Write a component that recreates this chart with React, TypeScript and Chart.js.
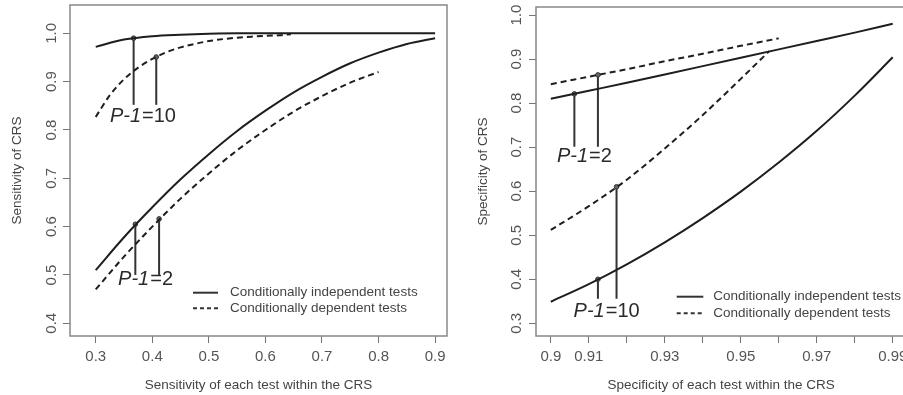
import React, { useEffect, useRef } from "react";
import { Chart, registerables } from "chart.js";
Chart.register(...registerables);

// ---------- Left panel: sensitivity ----------
const sensX = [0.30, 0.35, 0.40, 0.45, 0.50, 0.55, 0.60, 0.65, 0.70, 0.75, 0.80, 0.85, 0.90];
const sensIndep2 = [0.51, 0.578, 0.64, 0.698, 0.75, 0.798, 0.84, 0.878, 0.91, 0.938, 0.96, 0.978, 0.99];
const sensIndep10 = [0.972, 0.987, 0.994, 0.997, 0.999, 1.0, 1.0, 1.0, 1.0, 1.0, 1.0, 1.0, 1.0];
const sensDep2X = [0.30, 0.35, 0.40, 0.45, 0.50, 0.55, 0.60, 0.65, 0.70, 0.75, 0.80];
const sensDep2 = [0.47, 0.538, 0.60, 0.658, 0.71, 0.758, 0.80, 0.838, 0.87, 0.898, 0.92];
const sensDep10X = [0.300, 0.325, 0.350, 0.375, 0.400, 0.425, 0.450, 0.475, 0.500, 0.525, 0.550, 0.575, 0.600, 0.625, 0.645];
const sensDep10 = [0.827, 0.872, 0.905, 0.929, 0.947, 0.961, 0.971, 0.978, 0.984, 0.988, 0.991, 0.993, 0.995, 0.996, 0.998];
const sensMarkX = [0.367, 0.407, 0.37, 0.412];
const sensMarkBase = [0.852, 0.852, 0.50, 0.50];
const sensMarkTop = [0.990, 0.951, 0.605, 0.616];
const sensXTicks = [0.3, 0.4, 0.5, 0.6, 0.7, 0.8, 0.9];
const sensXTickLabels = ["0.3", "0.4", "0.5", "0.6", "0.7", "0.8", "0.9"];
const sensYTicks = [0.4, 0.5, 0.6, 0.7, 0.8, 0.9, 1.0];
const sensYTickLabels = ["0.4", "0.5", "0.6", "0.7", "0.8", "0.9", "1.0"];

// ---------- Right panel: specificity ----------
const specX = [0.90, 0.91, 0.92, 0.93, 0.94, 0.95, 0.96, 0.97, 0.98, 0.99];
const specIndep2 = [0.81, 0.828, 0.846, 0.865, 0.884, 0.903, 0.922, 0.941, 0.960, 0.980];
const specIndep10 = [0.349, 0.389, 0.434, 0.484, 0.539, 0.599, 0.665, 0.737, 0.817, 0.904];
const specDep2X = [0.90, 0.91, 0.92, 0.93, 0.94, 0.95, 0.96];
const specDep2 = [0.843, 0.860, 0.877, 0.895, 0.912, 0.930, 0.947];
const specDep10X = [0.90, 0.91, 0.92, 0.93, 0.94, 0.95, 0.9575];
const specDep10 = [0.512, 0.566, 0.626, 0.697, 0.773, 0.855, 0.918];
const specMarkX = [0.9062, 0.9124, 0.9124, 0.9173];
const specMarkBase = [0.701, 0.701, 0.356, 0.356];
const specMarkTop = [0.821, 0.864, 0.400, 0.610];
const specXTicks = [0.90, 0.91, 0.92, 0.93, 0.94, 0.95, 0.96, 0.97, 0.98, 0.99];
const specXTickLabels = ["0.9", "0.91", "", "0.93", "", "0.95", "", "0.97", "", "0.99"];
const specYTicks = [0.3, 0.4, 0.5, 0.6, 0.7, 0.8, 0.9, 1.0];
const specYTickLabels = ["0.3", "0.4", "0.5", "0.6", "0.7", "0.8", "0.9", "1.0"];

const legendTexts = ["Conditionally independent tests", "Conditionally dependent tests"];

const FONT = '"Liberation Sans", Arial, Helvetica, sans-serif';
const LINE = "#1e1e1e";
const TEXT = "#444";

function curve(xs: number[], ys: number[], dashed: boolean) {
  return {
    data: xs.map((x, i) => ({ x, y: ys[i] })),
    borderColor: LINE,
    borderWidth: 2,
    borderDash: dashed ? [6, 4] : [],
    pointRadius: 0,
    cubicInterpolationMode: "monotone",
    fill: false,
  };
}

function markers(xs: number[], base: number[], top: number[]) {
  return xs.map((x, i) => ({
    data: [
      { x, y: base[i] },
      { x, y: top[i] },
    ],
    borderColor: "#333",
    borderWidth: 2,
    pointRadius: [0, 2.3],
    pointBackgroundColor: "#666",
    pointBorderColor: "#333",
    pointBorderWidth: 1,
    fill: false,
  }));
}

const decorPlugin = {
  id: "decor",
  afterDraw(chart: any, _args: any, opts: any) {
    const { ctx, chartArea: a, scales } = chart;
    ctx.save();
    // frame
    ctx.strokeStyle = "#888";
    ctx.lineWidth = 1.5;
    ctx.strokeRect(a.left, a.top, a.right - a.left, a.bottom - a.top);
    // P-1 labels
    ctx.fillStyle = "#2a2a2a";
    ctx.textBaseline = "middle";
    ctx.textAlign = "left";
    for (const lab of opts.labels || []) {
      const x = scales.x.getPixelForValue(lab.x);
      const y = scales.y.getPixelForValue(lab.y);
      ctx.font = `italic 20px ${FONT}`;
      ctx.fillText("P-1", x, y);
      const w = ctx.measureText("P-1").width;
      ctx.font = `20px ${FONT}`;
      ctx.fillText("=" + lab.n, x + w + 1, y);
    }
    // legend
    const lg = opts.legend;
    if (lg) {
      const x0 = a.right + lg.dx;
      const ys = [a.bottom + lg.dy0, a.bottom + lg.dy1];
      ctx.strokeStyle = "#333";
      ctx.lineWidth = 2;
      ys.forEach((y: number, i: number) => {
        ctx.setLineDash(i === 0 ? [] : [4, 3]);
        ctx.beginPath();
        ctx.moveTo(x0, y);
        ctx.lineTo(x0 + lg.len, y);
        ctx.stroke();
      });
      ctx.setLineDash([]);
      ctx.font = `13.5px ${FONT}`;
      ctx.fillStyle = TEXT;
      ys.forEach((y: number, i: number) => {
        ctx.fillText(legendTexts[i], x0 + lg.textDx, y);
      });
    }
    ctx.restore();
  },
};

function buildConfig(p: any) {
  return {
    type: "line",
    data: { datasets: p.datasets },
    options: {
      animation: false,
      responsive: false,
      devicePixelRatio: 1,
      layout: { padding: p.padding },
      plugins: {
        legend: { display: false },
        tooltip: { enabled: false },
        decor: { labels: p.labels, legend: p.legend },
      },
      scales: {
        x: {
          type: "linear",
          min: p.xMin,
          max: p.xMax,
          afterBuildTicks: (s: any) => {
            s.ticks = p.xTicks.map((v: number) => ({ value: v }));
          },
          afterFit: (s: any) => {
            s.height = 59;
            s.paddingLeft = 0;
            s.paddingRight = 0;
          },
          ticks: {
            autoSkip: false,
            maxRotation: 0,
            minRotation: 0,
            padding: 4.7,
            color: "#555",
            font: { size: 15, family: FONT },
            callback: (_v: any, i: number) => p.xTickLabels[i],
          },
          grid: { drawOnChartArea: false, drawTicks: true, tickLength: 7, color: "#777", lineWidth: 1 },
          border: { display: false },
          title: {
            display: true,
            text: p.xTitle,
            color: TEXT,
            font: { size: 13.5, family: FONT },
            padding: { top: 0, bottom: 2 },
          },
        },
        y: {
          type: "linear",
          min: p.yMin,
          max: p.yMax,
          afterBuildTicks: (s: any) => {
            s.ticks = p.yTicks.map((v: number) => ({ value: v }));
          },
          afterFit: (s: any) => {
            s.width = p.yAxisWidth;
            s.paddingTop = 0;
            s.paddingBottom = 0;
          },
          ticks: {
            autoSkip: false,
            minRotation: 90,
            maxRotation: 90,
            crossAlign: "center",
            padding: p.yTickPad,
            color: "#555",
            font: { size: 15, family: FONT },
            callback: (_v: any, i: number) => p.yTickLabels[i],
          },
          grid: { drawOnChartArea: false, drawTicks: true, tickLength: 7, color: "#777", lineWidth: 1 },
          border: { display: false },
          title: {
            display: true,
            text: p.yTitle,
            color: TEXT,
            font: { size: 13.5, family: FONT },
            padding: { top: p.yTitlePad, bottom: 0 },
          },
        },
      },
    },
    plugins: [decorPlugin],
  } as any;
}

const leftPanel = {
  xMin: 0.2545,
  xMax: 0.921,
  yMin: 0.3737,
  yMax: 1.0586,
  xTicks: sensXTicks,
  xTickLabels: sensXTickLabels,
  yTicks: sensYTicks,
  yTickLabels: sensYTickLabels,
  xTitle: "Sensitivity of each test within the CRS",
  yTitle: "Sensitivity of CRS",
  padding: { top: 5, right: 5, left: 0, bottom: 0 },
  yAxisWidth: 70,
  yTickPad: 0.9,
  yTitlePad: 9,
  datasets: [
    curve(sensX, sensIndep10, false),
    curve(sensDep10X, sensDep10, true),
    curve(sensX, sensIndep2, false),
    curve(sensDep2X, sensDep2, true),
    ...markers(sensMarkX, sensMarkBase, sensMarkTop),
  ],
  labels: [
    { x: 0.325, y: 0.827, n: "10" },
    { x: 0.3395, y: 0.491, n: "2" },
  ],
  legend: { dx: -254, dy0: -43.3, dy1: -27.7, len: 25, textDx: 37 },
};

const rightPanel = {
  xMin: 0.8961,
  xMax: 0.9936,
  yMin: 0.2712,
  yMax: 1.0182,
  xTicks: specXTicks,
  xTickLabels: specXTickLabels,
  yTicks: specYTicks,
  yTickLabels: specYTickLabels,
  xTitle: "Specificity of each test within the CRS",
  yTitle: "Specificity of CRS",
  padding: { top: 7, right: 8.6, left: 0, bottom: 0 },
  yAxisWidth: 81,
  yTickPad: 1.9,
  yTitlePad: 20,
  datasets: [
    curve(specX, specIndep2, false),
    curve(specDep2X, specDep2, true),
    curve(specX, specIndep10, false),
    curve(specDep10X, specDep10, true),
    ...markers(specMarkX, specMarkBase, specMarkTop),
  ],
  labels: [
    { x: 0.9016, y: 0.678, n: "2" },
    { x: 0.906, y: 0.326, n: "10" },
  ],
  legend: { dx: -229.7, dy0: -39.3, dy1: -22.7, len: 26.6, textDx: 36.6 },
};

export default function App() {
  const leftRef = useRef<HTMLCanvasElement>(null);
  const rightRef = useRef<HTMLCanvasElement>(null);
  useEffect(() => {
    Chart.defaults.font.family = FONT;
    const c1 = new Chart(leftRef.current as HTMLCanvasElement, buildConfig(leftPanel));
    const c2 = new Chart(rightRef.current as HTMLCanvasElement, buildConfig(rightPanel));
    return () => {
      c1.destroy();
      c2.destroy();
    };
  }, []);
  return (
    <div
      style={{
        position: "fixed",
        left: 0,
        top: 0,
        width: 903,
        height: 395,
        overflow: "hidden",
        background: "#fff",
      }}
    >
      <canvas
        ref={leftRef}
        width={452}
        height={395}
        style={{ position: "absolute", left: 0, top: 0, width: 452, height: 395 }}
      />
      <canvas
        ref={rightRef}
        width={460}
        height={395}
        style={{ position: "absolute", left: 455, top: 0, width: 460, height: 395 }}
      />
    </div>
  );
}
